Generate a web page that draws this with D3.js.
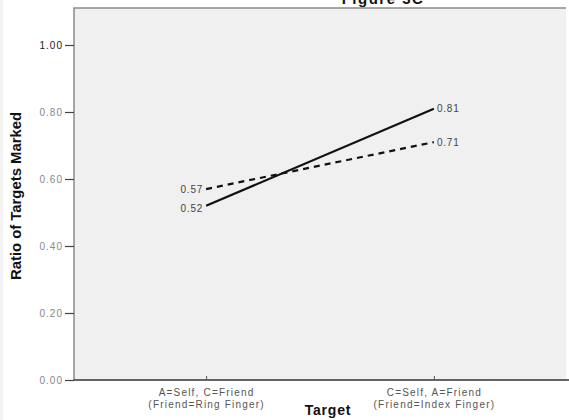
<!DOCTYPE html>
<html><head><meta charset="utf-8">
<script src="https://cdn.jsdelivr.net/npm/d3@7"></script>
<style>body{margin:0;background:#fff;}svg{display:block;font-family:"Liberation Sans",Arial,sans-serif;}</style>
</head><body>
<svg id="c" width="569" height="420"></svg>
<script>
const categories = ["A=Self, C=Friend|(Friend=Ring Finger)", "C=Self, A=Friend|(Friend=Index Finger)"];
const solidValues = [0.52, 0.81];
const dashedValues = [0.57, 0.71];
const yTicks = [0, 0.2, 0.4, 0.6, 0.8, 1.0];
const title = "Figure 3C";
const xTitle = "Target";
const yTitle = "Ratio of Targets Marked";

const svg = d3.select("#c");
const L = 74, R = 566, T = 8, B = 380;
svg.append("rect").attr("x",0).attr("y",0).attr("width",3).attr("height",420).attr("fill","#f2f2f2");
svg.append("rect").attr("x",L).attr("y",T).attr("width",R-L).attr("height",B-T).attr("fill","#f0f0f0");
svg.append("path").attr("d",`M${L},${B}V${T}H${R}`).attr("fill","none").attr("stroke","#8a8a8a").attr("stroke-width",1.5);

const x = d3.scalePoint().domain(categories).range([L, R]).padding(0.58);
const y = d3.scaleLinear().domain([0, 1]).range([B, 45]);

// y axis
const ya = svg.append("g").attr("transform",`translate(${L},0)`)
  .call(d3.axisLeft(y).tickValues(yTicks).tickFormat(d3.format(".2f")).tickSize(9).tickPadding(2));
ya.select(".domain").remove();
ya.selectAll(".tick line").attr("stroke","#444").attr("stroke-width",1.2);
ya.selectAll(".tick text").attr("font-size",10).attr("letter-spacing",1).attr("fill",(d)=>d===1?"#222":"#888")
  .attr("font-family","'Liberation Sans',Arial,sans-serif").attr("dy","0.35em");

// x axis
const xa = svg.append("g").attr("transform",`translate(0,${B})`)
  .call(d3.axisBottom(x).tickSize(4).tickFormat(""));
xa.select(".domain").attr("d",`M${L},0H${R+3}`).attr("stroke","#333").attr("stroke-width",1.5);
xa.selectAll(".tick line").attr("stroke","#555").attr("y2",-4).attr("y1",0);
xa.selectAll(".tick").each(function(d){
  const parts = d.split("|");
  const t = d3.select(this).append("text").attr("fill","#555").attr("font-size",10).attr("letter-spacing",1.2)
    .attr("text-anchor","middle").attr("font-family","'Liberation Sans',Arial,sans-serif");
  t.append("tspan").attr("x",0).attr("y",16).text(parts[0]);
  t.append("tspan").attr("x",0).attr("y",28).text(parts[1]);
});

// lines
const line = d3.line().x((d,i)=>x(categories[i])).y(d=>y(d));
svg.append("path").datum(dashedValues).attr("d",line).attr("fill","none").attr("stroke","#111")
  .attr("stroke-width",2.2).attr("stroke-dasharray","6,5");
svg.append("path").datum(solidValues).attr("d",line).attr("fill","none").attr("stroke","#111")
  .attr("stroke-width",2.2);

// value labels
function labels(vals, dyShift){
  vals.forEach((v,i)=>{
    svg.append("text").attr("x", i===0 ? x(categories[i])-3 : x(categories[i])+3)
      .attr("y", y(v) + (i===0 ? dyShift : 0)).attr("dy","0.35em").attr("text-anchor", i===0?"end":"start")
      .attr("font-size",10).attr("letter-spacing",0.8).attr("fill","#444").text(d3.format(".2f")(v));
  });
}
labels(solidValues, 3); labels(dashedValues, 0);

// titles
svg.append("text").attr("x",383).attr("y",4).attr("text-anchor","middle").attr("font-size",15)
  .attr("letter-spacing",1.5).attr("font-weight","bold").attr("fill","#111").text(title);
svg.append("text").attr("x",328).attr("y",415).attr("text-anchor","middle").attr("font-size",14)
  .attr("letter-spacing",0.8).attr("font-weight","bold").attr("fill","#111").text(xTitle);
svg.append("text").attr("transform","translate(21,196) rotate(-90)").attr("text-anchor","middle")
  .attr("font-size",14).attr("font-weight","bold").attr("fill","#111")
  .attr("textLength",168).attr("lengthAdjust","spacingAndGlyphs").text(yTitle);
</script>
</body></html>
